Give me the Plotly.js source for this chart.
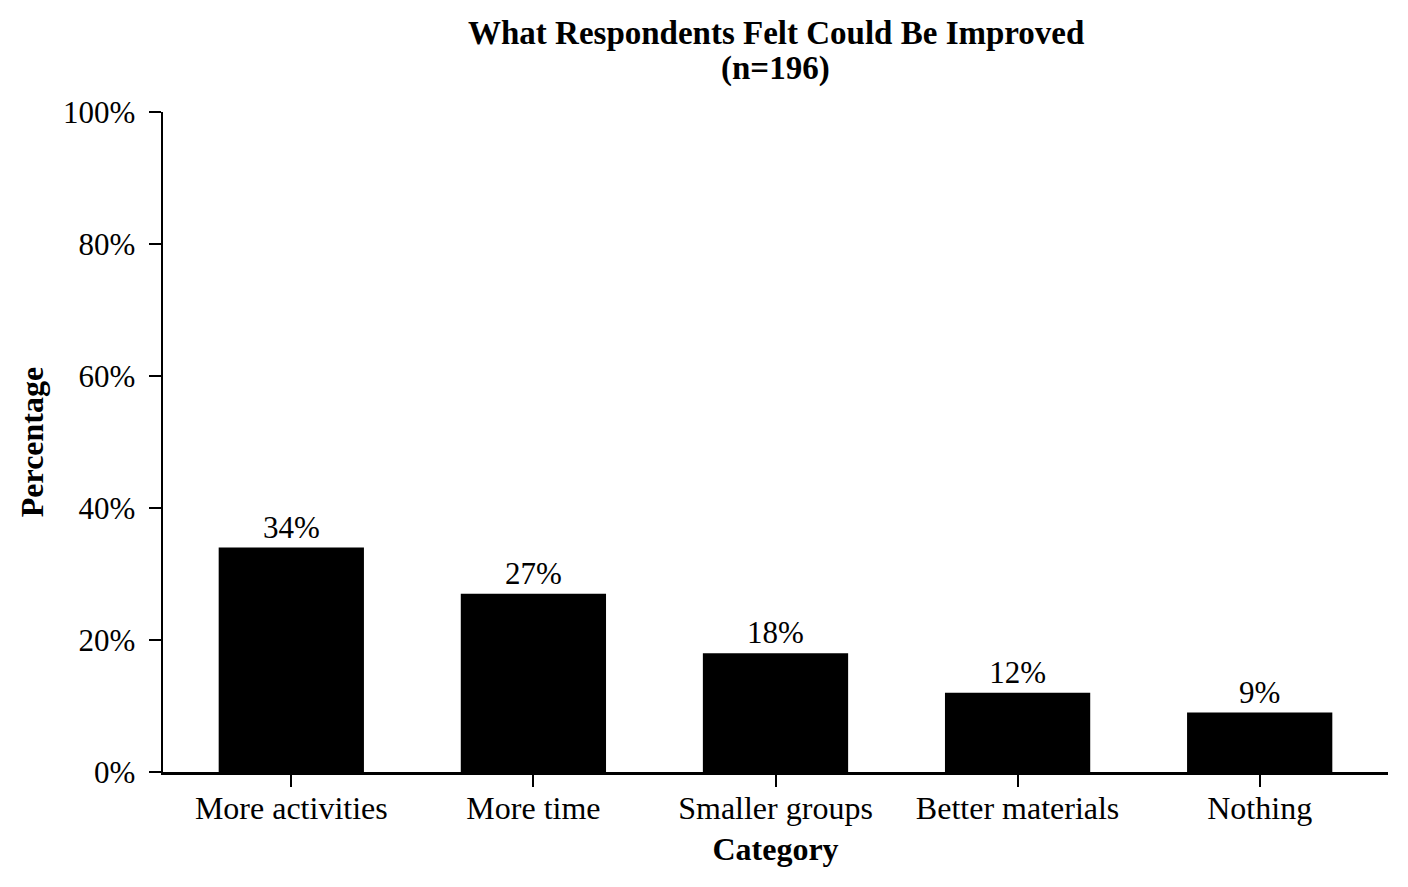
<!DOCTYPE html>
<html>
<head>
<meta charset="utf-8">
<script src="https://cdn.plot.ly/plotly-3.0.1.min.js"></script>
<style>html,body{margin:0;padding:0;background:#fff;}#chart{width:1408px;height:887px;}</style>
</head>
<body>
<div id="chart"></div>
<script>
const categories = ["More activities", "More time", "Smaller groups", "Better materials", "Nothing"];
const percentages = [34, 27, 18, 12, 9];
const yTickVals = [0, 20, 40, 60, 80, 100];
const yTickText = ["0%", "20%", "40%", "60%", "80%", "100%"];
const titleLines = ["What Respondents Felt Could Be Improved", "(n=196)"];

const font = "Liberation Serif, Times New Roman, serif";
const fs = 31;

Plotly.newPlot("chart", [{
  type: "bar",
  x: categories,
  y: percentages,
  width: 0.6,
  marker: {color: "#000000"},
  text: percentages.map(v => v + "%"),
  textposition: "outside",
  cliponaxis: false,
  textfont: {family: font, size: fs, color: "#000"},
  hoverinfo: "skip"
}], {
  width: 1408, height: 887,
  margin: {l: 163, r: 20, t: 112, b: 115},
  paper_bgcolor: "#fff", plot_bgcolor: "#fff",
  font: {family: font, color: "#000", size: fs},
  showlegend: false,
  annotations: [
    {text: "<b>" + titleLines[0] + "</b>", xref: "paper", yref: "paper", x: 0.5, xanchor: "center",
     y: 1 + (112 - 33) / 660, yanchor: "middle", showarrow: false,
     font: {family: font, size: 33, color: "#000"}},
    {text: "<b>" + titleLines[1] + "</b>", xref: "paper", yref: "paper", x: 0.5, xanchor: "center",
     y: 1 + (112 - 68) / 660, yanchor: "middle", showarrow: false,
     font: {family: font, size: 33, color: "#000"}}
  ],
  xaxis: {
    range: [-0.53, 4.53],
    showline: true, linecolor: "#000", linewidth: 2.5,
    ticks: "outside", ticklen: 12, tickwidth: 2, tickcolor: "#000",
    showgrid: false, zeroline: false,
    ticklabelstandoff: -6,
    tickfont: {family: font, size: 32, color: "#000"},
    title: {text: "<b>Category</b>", font: {family: font, size: 32, color: "#000"}, standoff: 13}
  },
  yaxis: {
    range: [0, 100],
    tickvals: yTickVals, ticktext: yTickText,
    showline: true, linecolor: "#000", linewidth: 2.5,
    ticks: "outside", ticklen: 12, tickwidth: 2, tickcolor: "#000",
    showgrid: false, zeroline: false,
    ticklabelstandoff: 7,
    tickfont: {family: font, size: fs, color: "#000"},
    title: {text: "<b>Percentage</b>", font: {family: font, size: 32, color: "#000"}, standoff: 10}
  }
}, {displayModeBar: false, staticPlot: true});
</script>
</body>
</html>
